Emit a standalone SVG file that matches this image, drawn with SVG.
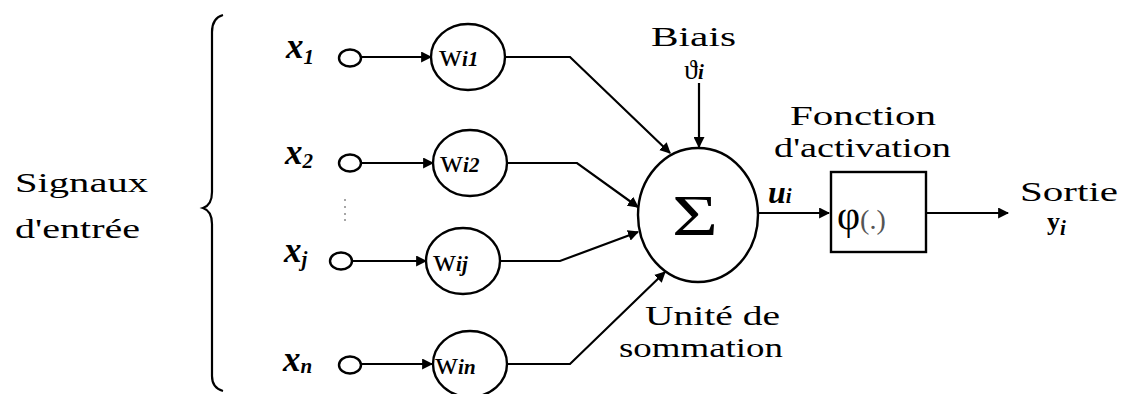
<svg xmlns="http://www.w3.org/2000/svg" width="1124" height="394" viewBox="0 0 1124 394">
<defs>
<style>
text{font-family:'Liberation Serif','Times New Roman',Times,'Noto Serif','DejaVu Serif',serif}
.t{fill:#000}
.lbl{font-size:27px}
.xv{font-size:35px;font-weight:bold;font-style:italic}
.sub{font-size:21px;font-style:italic;font-weight:bold}
.wv{font-size:32px}
.ln{fill:none;stroke:#000;stroke-width:2.2}
.nd{fill:#fff;stroke:#000;stroke-width:2.4}
</style>
<marker id="ah" viewBox="0 0 10 10" refX="9" refY="5" markerWidth="5" markerHeight="5" orient="auto" markerUnits="strokeWidth">
<path d="M0,0 L10,5 L0,10 z" fill="#000"/>
</marker>
</defs>
<rect width="1124" height="394" fill="#fff"/>

<g id="brace">
<path class="ln" d="M223,15 Q212,18 212,32 L212,192 Q212,205 203,208 Q212,211 212,224 L212,376 Q212,388 223,391"/>
</g>
<g id="label-signaux">
<text class="t lbl" x="15" y="192" textLength="133" lengthAdjust="spacingAndGlyphs">Signaux</text>
<text class="t lbl" x="15" y="238" textLength="125" lengthAdjust="spacingAndGlyphs">d'entrée</text>
</g>

<g id="connectors">
<line class="ln" x1="361" y1="57" x2="431" y2="57" marker-end="url(#ah)"/>
<line class="ln" x1="362" y1="163" x2="433" y2="163" marker-end="url(#ah)"/>
<line class="ln" x1="353" y1="261" x2="426" y2="261" marker-end="url(#ah)"/>
<line class="ln" x1="362" y1="364" x2="432" y2="364" marker-end="url(#ah)"/>
<polyline class="ln" points="505,57 570,57 670,153" marker-end="url(#ah)"/>
<polyline class="ln" points="507,163 577,163 638,207" marker-end="url(#ah)"/>
<polyline class="ln" points="501,261 560,261 638,232" marker-end="url(#ah)"/>
<polyline class="ln" points="507,364 570,364 665,272" marker-end="url(#ah)"/>
<line class="ln" x1="699" y1="83" x2="699" y2="147" marker-end="url(#ah)"/>
<line class="ln" x1="758" y1="213" x2="829" y2="213" marker-end="url(#ah)"/>
<line class="ln" x1="926" y1="213" x2="1008" y2="213" marker-end="url(#ah)"/>
</g>

<g id="input-x1">
<text class="t" x="286" y="58"><tspan class="xv">x</tspan><tspan class="sub" dy="6">1</tspan></text>
<ellipse class="nd" cx="350" cy="58" rx="11" ry="8.5"/>
</g>
<g id="input-x2">
<text class="t" x="285" y="164"><tspan class="xv">x</tspan><tspan class="sub" dy="4">2</tspan></text>
<ellipse class="nd" cx="350" cy="163" rx="11" ry="8.5"/>
</g>
<g id="dots">
<circle cx="345" cy="200" r="1" fill="#888"/>
<circle cx="345" cy="207" r="1" fill="#888"/>
<circle cx="345" cy="214" r="1" fill="#888"/>
<circle cx="345" cy="220" r="1" fill="#888"/>
</g>
<g id="input-xj">
<text class="t" x="284" y="262"><tspan class="xv">x</tspan><tspan class="sub" dy="4">j</tspan></text>
<ellipse class="nd" cx="341" cy="261" rx="11" ry="8.5"/>
</g>
<g id="input-xn">
<text class="t" x="283" y="371"><tspan class="xv">x</tspan><tspan class="sub" dy="2">n</tspan></text>
<ellipse class="nd" cx="350" cy="365" rx="11" ry="8.5"/>
</g>

<g id="weight-wi1">
<ellipse class="nd" cx="468" cy="57" rx="37" ry="33"/>
<text class="t" x="439" y="66"><tspan class="wv">w</tspan><tspan class="sub">i1</tspan></text>
</g>
<g id="weight-wi2">
<ellipse class="nd" cx="470" cy="163" rx="37" ry="33"/>
<text class="t" x="440" y="172"><tspan class="wv">w</tspan><tspan class="sub">i2</tspan></text>
</g>
<g id="weight-wij">
<ellipse class="nd" cx="463" cy="261" rx="37" ry="33"/>
<text class="t" x="433" y="271"><tspan class="wv">w</tspan><tspan class="sub">ij</tspan></text>
</g>
<g id="weight-win">
<ellipse class="nd" cx="470" cy="364" rx="37" ry="33"/>
<text class="t" x="435" y="374"><tspan class="wv">w</tspan><tspan class="sub">in</tspan></text>
</g>

<g id="bias">
<text class="t lbl" x="651" y="46" textLength="85" lengthAdjust="spacingAndGlyphs">Biais</text>
<text class="t" x="684" y="79"><tspan font-size="28">ϑ</tspan><tspan class="sub">i</tspan></text>
</g>

<g id="sum">
<ellipse class="nd" cx="698" cy="215" rx="60" ry="67"/>
<text class="t" x="672" y="235" font-size="58" textLength="46" lengthAdjust="spacingAndGlyphs">Σ</text>
<text class="t lbl" x="645" y="325" textLength="135" lengthAdjust="spacingAndGlyphs">Unité de</text>
<text class="t lbl" x="619" y="357" textLength="164" lengthAdjust="spacingAndGlyphs">sommation</text>
</g>
<g id="label-ui">
<text class="t" x="768" y="203"><tspan font-size="32" font-weight="bold" font-style="italic">u</tspan><tspan class="sub">i</tspan></text>
</g>

<g id="activation">
<rect class="nd" x="831" y="172" width="95" height="80"/>
<text class="t" x="837" y="229"><tspan font-size="40">φ</tspan><tspan font-size="28" fill="#555">(.)</tspan></text>
<text class="t lbl" x="790" y="125" textLength="146" lengthAdjust="spacingAndGlyphs">Fonction</text>
<text class="t lbl" x="774" y="157" textLength="177" lengthAdjust="spacingAndGlyphs">d'activation</text>
</g>

<g id="output">
<text class="t lbl" x="1020" y="201" textLength="98" lengthAdjust="spacingAndGlyphs">Sortie</text>
<text class="t" x="1047" y="230"><tspan font-size="26" font-weight="bold">y</tspan><tspan class="sub" dy="5">i</tspan></text>
</g>
</svg>
